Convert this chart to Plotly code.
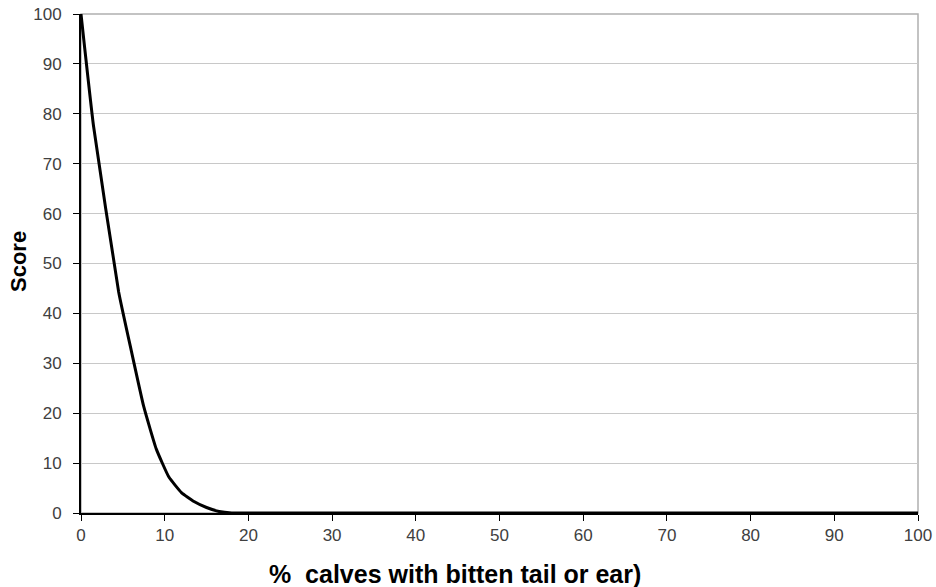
import plotly.graph_objects as go

pct_calves = [0, 1.5, 4.5, 6, 7.5, 9, 10.5, 12, 13.5, 15, 16.5, 18, 100]
score = [100, 77.5, 44.3, 32.6, 21.3, 12.8, 7.2, 4.1, 2.3, 1.1, 0.3, 0, 0]
x_ticks = list(range(0, 101, 10))
y_ticks = list(range(0, 101, 10))
x_title = "%  calves with bitten tail or ear)"
y_title = "Score"

fig = go.Figure()
fig.add_trace(go.Scatter(x=pct_calves, y=score, mode="lines",
                         line=dict(color="black", width=3, shape="spline", smoothing=0.4),
                         showlegend=False, hoverinfo="skip", cliponaxis=False))

fig.add_shape(type="rect", xref="paper", yref="paper", x0=0, y0=0, x1=1, y1=1,
              line=dict(color="#b0b0b0", width=1.5), layer="below")

W, H = 936, 587
L, R, T, B = 81, 18, 14, 74
pw, ph = W - L - R, H - T - B

def px_to_paper(px, py):
    return (px - L) / pw, (H - B - py) / ph

xt_x, xt_y = px_to_paper(455, 574)
yt_x, yt_y = px_to_paper(18, 262)

fig.add_annotation(text="<b>" + x_title + "</b>", xref="paper", yref="paper",
                   x=xt_x, y=xt_y, xanchor="center", yanchor="middle", showarrow=False,
                   font=dict(family="Arial, Liberation Sans", size=25, color="black"))
fig.add_annotation(text="<b>" + y_title + "</b>", xref="paper", yref="paper",
                   x=yt_x, y=yt_y, xanchor="center", yanchor="middle", showarrow=False,
                   textangle=-90,
                   font=dict(family="Arial, Liberation Sans", size=22, color="black"))

tickfont = dict(family="Arial, Liberation Sans", size=17, color="#404040")
fig.update_layout(
    width=W, height=H,
    margin=dict(l=L, r=R, t=T, b=B),
    paper_bgcolor="white", plot_bgcolor="white",
    xaxis=dict(range=[0, 100], tickvals=x_ticks, showgrid=False, zeroline=False,
               automargin=False,
               showline=True, linecolor="black", linewidth=2,
               ticks="outside", ticklen=6, tickcolor="black", tickwidth=1,
               tickfont=tickfont),
    yaxis=dict(range=[0, 100], tickvals=y_ticks, showgrid=True, gridcolor="#c8c8c8", gridwidth=1,
               automargin=False,
               zeroline=False, showline=True, linecolor="black", linewidth=2,
               ticks="outside", ticklen=6, tickcolor="black", tickwidth=1,
               tickfont=tickfont, ticklabelstandoff=8),
)

fig.write_html("out.html", config={"displayModeBar": False},
               post_script="document.body.style.margin='0';document.body.style.overflow='hidden';")
